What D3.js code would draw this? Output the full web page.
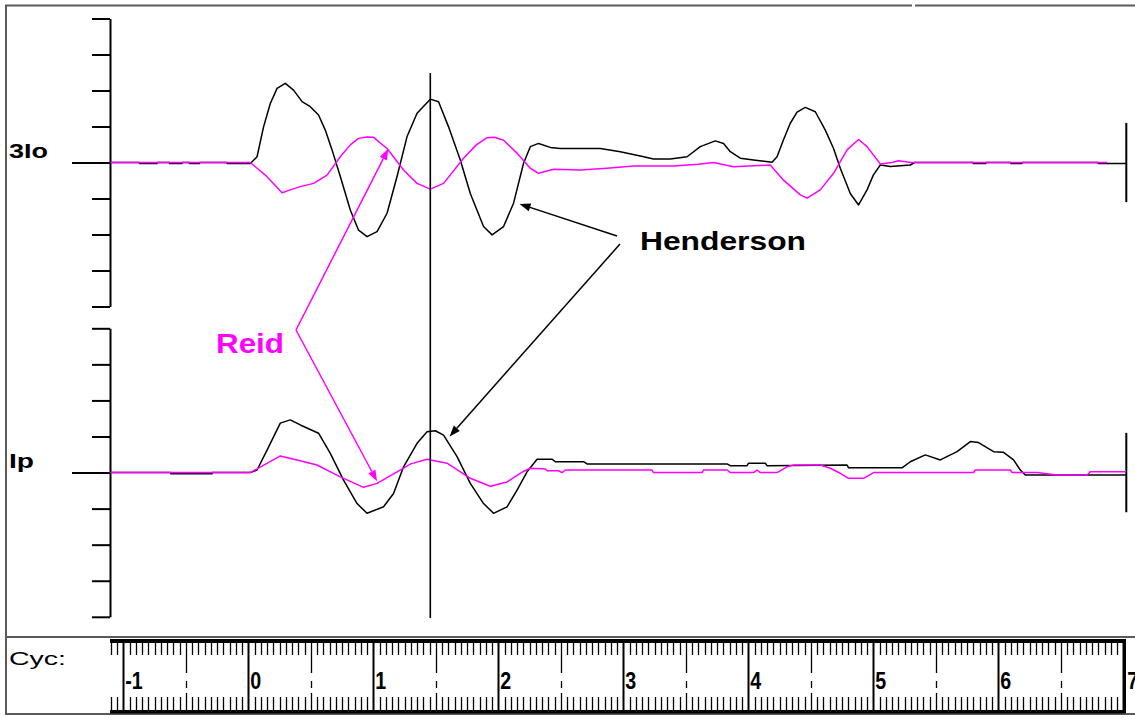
<!DOCTYPE html>
<html>
<head>
<meta charset="utf-8">
<script src="https://cdn.jsdelivr.net/npm/d3@7"></script>
<style>
  html, body { margin: 0; padding: 0; background: #fff; }
  svg { display: block; }
  text { font-family: "Liberation Sans", Arial, sans-serif; }
</style>
</head>
<body>
<svg id="chart" width="1135" height="718"></svg>
<script>
// Waveform samples as [cycle, divisions]
const hendersonUpper = [
  [-1.104,0],[-0.87,0],[-0.87,-0.03],[-0.73,-0.03],[-0.73,0],[-0.63,0],[-0.63,-0.03],[-0.53,-0.03],[-0.53,0],
  [-0.47,0],[-0.47,-0.03],[-0.39,-0.03],[-0.39,0],[-0.17,0],[-0.17,-0.03],[0.016,-0.03],
  [0.07,0.16],[0.122,0.99],[0.176,1.64],[0.23,2.06],[0.296,2.2],[0.362,2.01],[0.43,1.69],[0.496,1.55],
  [0.562,1.32],[0.616,0.9],[0.67,0.35],[0.736,-0.39],[0.816,-1.32],[0.882,-1.88],[0.95,-2.06],[1.03,-1.92],
  [1.11,-1.41],[1.19,-0.39],[1.27,0.72],[1.35,1.37],[1.456,1.76],[1.522,1.69],[1.602,0.99],[1.696,0.07],
  [1.776,-0.86],[1.882,-1.78],[1.95,-2.01],[2.042,-1.78],[2.122,-1.13],[2.202,-0.02],[2.256,0.44],[2.322,0.53],
  [2.416,0.42],[2.496,0.39],[2.63,0.39],[2.816,0.39],[2.976,0.3],[3.136,0.18],[3.242,0.1],[3.376,0.1],
  [3.51,0.16],[3.616,0.44],[3.736,0.6],[3.802,0.53],[3.856,0.3],[3.936,0.12],[4.042,0.07],[4.19,0.01],
  [4.23,0.16],[4.28,0.62],[4.336,1.09],[4.39,1.4],[4.456,1.53],[4.536,1.41],[4.616,0.9],[4.682,0.39],
  [4.736,-0.16],[4.816,-0.86],[4.882,-1.18],[4.95,-0.76],[5.0,-0.35],[5.056,-0.07],[5.136,-0.11],[5.296,-0.07],
  [5.33,0],[5.8,0],[5.8,-0.03],[5.9,-0.03],[5.9,0],[6.1,0],[6.1,-0.03],[6.19,-0.03],[6.19,0],
  [6.8,0],[6.8,-0.03],[7.02,-0.03]
];
const reidUpper = [
  [-1.104,0],[0.016,0],[0.136,-0.35],[0.27,-0.84],[0.336,-0.76],[0.416,-0.67],[0.522,-0.58],[0.63,-0.35],
  [0.736,0.16],[0.816,0.49],[0.882,0.67],[0.95,0.71],[1.002,0.7],[1.11,0.39],[1.242,-0.21],[1.35,-0.58],
  [1.456,-0.74],[1.562,-0.58],[1.722,0.12],[1.824,0.49],[1.91,0.69],[1.97,0.7],[2.042,0.62],[2.15,0.26],
  [2.256,-0.16],[2.322,-0.3],[2.442,-0.19],[2.656,-0.21],[2.87,-0.16],[3.082,-0.1],[3.402,-0.1],[3.6,-0.05],
  [3.722,0],[3.882,-0.12],[4.176,-0.07],[4.282,-0.49],[4.416,-0.9],[4.47,-0.99],[4.576,-0.76],[4.682,-0.3],
  [4.79,0.35],[4.882,0.64],[4.95,0.44],[5.056,-0.04],[5.15,0],[5.2,0.05],[5.25,0.03],[5.296,0],[6.87,0]
];
const hendersonLower = [
  [-1.104,0],[-0.62,0],[-0.62,-0.03],[-0.29,-0.03],[-0.29,0],[0.016,0],[0.07,0.07],[0.15,0.62],[0.256,1.37],
  [0.336,1.46],[0.416,1.32],[0.562,1.09],[0.656,0.53],[0.762,-0.21],[0.87,-0.86],[0.95,-1.13],[1.082,-0.95],
  [1.162,-0.58],[1.242,0.16],[1.35,0.81],[1.43,1.13],[1.496,1.16],[1.562,1.04],[1.67,0.44],[1.776,-0.3],
  [1.882,-0.86],[1.962,-1.13],[2.07,-0.95],[2.15,-0.49],[2.23,0.02],[2.31,0.37],[2.43,0.37],[2.456,0.3],
  [2.682,0.3],[2.71,0.24],[3.83,0.24],[3.856,0.19],[3.99,0.19],[4.002,0.26],[4.136,0.26],[4.15,0.19],
  [4.79,0.21],[4.802,0.13],[5.23,0.13],[5.296,0.3],[5.416,0.49],[5.536,0.35],[5.67,0.58],[5.776,0.86],
  [5.842,0.83],[5.962,0.58],[6.042,0.56],[6.122,0.35],[6.176,0.07],[6.216,-0.07],[7.02,-0.07]
];
const reidLower = [
  [-1.104,0],[0.016,0],[0.11,0.18],[0.256,0.46],[0.39,0.35],[0.55,0.21],[0.736,-0.12],[0.922,-0.41],
  [1.03,-0.3],[1.19,0.02],[1.3,0.24],[1.43,0.37],[1.59,0.26],[1.776,-0.16],[1.936,-0.38],[2.07,-0.26],
  [2.2,0.03],[2.256,0.12],[2.376,0.1],[2.39,0.05],[2.482,0.05],[2.51,0],[2.536,0.07],[3.23,0.07],[3.242,0],
  [3.63,0],[3.642,0.07],[3.83,0.07],[3.856,0],[4.042,0],[4.07,0.07],[4.096,0],[4.23,0],[4.31,0.16],
  [4.362,0.21],[4.576,0.21],[4.656,0.12],[4.736,-0.02],[4.802,-0.16],[4.922,-0.16],[5.002,0],[5.802,0],
  [5.816,0.07],[6.096,0.07],[6.11,0],[6.31,0],[6.47,-0.07],[6.71,-0.07],[6.736,0.02],[7.02,0.02]
];

const rulerLabels = [-1, 0, 1, 2, 3, 4, 5, 6, 7];
const panelLabels = ["3Io", "Ip"];
const divisionTicks = [-4, -3, -2, -1, 0, 1, 2, 3, 4];
const cursorCycle = 1.456;
const endCycle = 7.02;

// Annotation targets: [cycle, divisions] on the named panel
const hendersonTargets = [{panel: 0, at: [2.17, -1.15]}, {panel: 1, at: [1.61, 1.0]}];
const reidTargets = [{panel: 0, at: [1.12, 0.38]}, {panel: 1, at: [1.03, -0.24]}];

const MAGENTA = "#ff00ff";
const svg = d3.select("#chart");

const x = d3.scaleLinear().domain([-1, 7]).range([123.3, 1123.3]);
const yPanels = [
  d3.scaleLinear().domain([-4, 4]).range([306.5, 18.5]),
  d3.scaleLinear().domain([-4, 4]).range([616.8, 328.3])
];

// Window frame
const frame = svg.append("g").attr("stroke", "#5a5a5a").attr("stroke-width", 2);
frame.append("line").attr("x1", 5).attr("x2", 912).attr("y1", 5.5).attr("y2", 5.5);
frame.append("line").attr("x1", 915).attr("x2", 1135).attr("y1", 5.5).attr("y2", 5.5);
frame.append("line").attr("x1", 6).attr("x2", 6).attr("y1", 5).attr("y2", 715);
frame.append("line").attr("x1", 6).attr("x2", 1135).attr("y1", 637).attr("y2", 637);
frame.append("line").attr("x1", 6).attr("x2", 1135).attr("y1", 714).attr("y2", 714);

// Vertical division axes
yPanels.forEach((y, i) => {
  const g = svg.append("g").attr("transform", "translate(110,0)")
    .call(d3.axisLeft(y).tickValues(divisionTicks).tickSize(18).tickSizeOuter(0).tickFormat(""));
  g.select(".domain").attr("stroke", "#000").attr("stroke-width", 2);
  g.selectAll(".tick line").attr("stroke", "#000").attr("stroke-width", 2)
    .filter(d => d === 0).attr("x2", -38);
  svg.append("text").text(panelLabels[i])
    .attr("x", 9).attr("y", y(0) - 5)
    .attr("font-size", 21).attr("font-weight", "bold")
    .attr("textLength", i === 0 ? 39 : 25).attr("lengthAdjust", "spacingAndGlyphs");
  // end-of-record marker
  svg.append("line").attr("x1", x(endCycle) + 0.5).attr("x2", x(endCycle) + 0.5)
    .attr("y1", y(1.1)).attr("y2", y(-1.1)).attr("stroke", "#000").attr("stroke-width", 2);
});

// Traces
const series = [
  {data: hendersonUpper, panel: 0, color: "#000"},
  {data: hendersonLower, panel: 1, color: "#000"},
  {data: reidUpper, panel: 0, color: MAGENTA},
  {data: reidLower, panel: 1, color: MAGENTA}
];
series.forEach(s => {
  const line = d3.line().x(d => x(d[0])).y(d => yPanels[s.panel](d[1]));
  svg.append("path").attr("d", line(s.data)).attr("fill", "none")
    .attr("stroke", s.color).attr("stroke-width", 1.5).attr("stroke-linejoin", "round");
});

// Cursor
svg.append("line").attr("x1", x(cursorCycle)).attr("x2", x(cursorCycle))
  .attr("y1", 73).attr("y2", 618).attr("stroke", "#000").attr("stroke-width", 1.6);

// Annotations
function arrow(from, target, color) {
  const tx = x(target.at[0]), ty = yPanels[target.panel](target.at[1]);
  const ang = Math.atan2(ty - from[1], tx - from[0]);
  const len = 11, hw = 4;
  const bx = tx - len * Math.cos(ang), by = ty - len * Math.sin(ang);
  svg.append("line").attr("x1", from[0]).attr("y1", from[1]).attr("x2", bx).attr("y2", by)
    .attr("stroke", color).attr("stroke-width", 1.5);
  svg.append("path").attr("fill", color).attr("d",
    `M${tx},${ty}L${bx + hw * Math.sin(ang)},${by - hw * Math.cos(ang)}L${bx - hw * Math.sin(ang)},${by + hw * Math.cos(ang)}Z`);
}
arrow([617, 236], hendersonTargets[0], "#000");
arrow([620, 244], hendersonTargets[1], "#000");
arrow([296, 330], reidTargets[0], MAGENTA);
arrow([296, 330], reidTargets[1], MAGENTA);

svg.append("text").text("Henderson").attr("x", 640).attr("y", 250)
  .attr("font-size", 25).attr("font-weight", "bold")
  .attr("textLength", 166).attr("lengthAdjust", "spacingAndGlyphs");
svg.append("text").text("Reid").attr("x", 216).attr("y", 353)
  .attr("font-size", 27).attr("font-weight", "bold").attr("fill", MAGENTA)
  .attr("textLength", 68).attr("lengthAdjust", "spacingAndGlyphs");

// Cycle ruler
svg.append("text").text("Cyc:").attr("x", 9).attr("y", 665)
  .attr("font-size", 18).attr("textLength", 57).attr("lengthAdjust", "spacingAndGlyphs");

const ruler = svg.append("g");
const rx0 = 110, rx1 = x(7) + 1.7;
ruler.append("rect").attr("x", rx0).attr("y", 639).attr("width", rx1 - rx0).attr("height", 4).attr("fill", "#000");
ruler.append("rect").attr("x", rx0).attr("y", 710).attr("width", rx1 - rx0).attr("height", 3.5).attr("fill", "#000");
ruler.append("line").attr("x1", rx1).attr("x2", rx1).attr("y1", 639).attr("y2", 713)
  .attr("stroke", "#000").attr("stroke-width", 2);

const steps = d3.range(-22, 141).map(k => k / 20);
steps.forEach(c => {
  const px = Math.round(x(c)) + 0.5;
  if (px < rx0 || px > rx1) return;
  const k = Math.round(c * 20);
  const segs = [];
  if (k % 20 === 0) segs.push([643, 710]);
  else if (k % 10 === 0) { segs.push([643, 673]); segs.push([681, 688]); segs.push([693, 710]); }
  else { segs.push([643, 655]); segs.push([697, 710]); }
  segs.forEach(s => ruler.append("line").attr("x1", px).attr("x2", px).attr("y1", s[0]).attr("y2", s[1])
    .attr("stroke", "#000").attr("stroke-width", k % 20 === 0 ? 2 : 1.3));
});
rulerLabels.forEach(v => {
  ruler.append("text").text(v < 0 ? "\u2010" + Math.abs(v) : String(v))
    .attr("transform", `translate(${x(v) + (v === 7 ? 4 : 2)},689) scale(0.82,1)`)
    .attr("font-size", 24).attr("font-weight", "bold");
});
</script>
</body>
</html>
